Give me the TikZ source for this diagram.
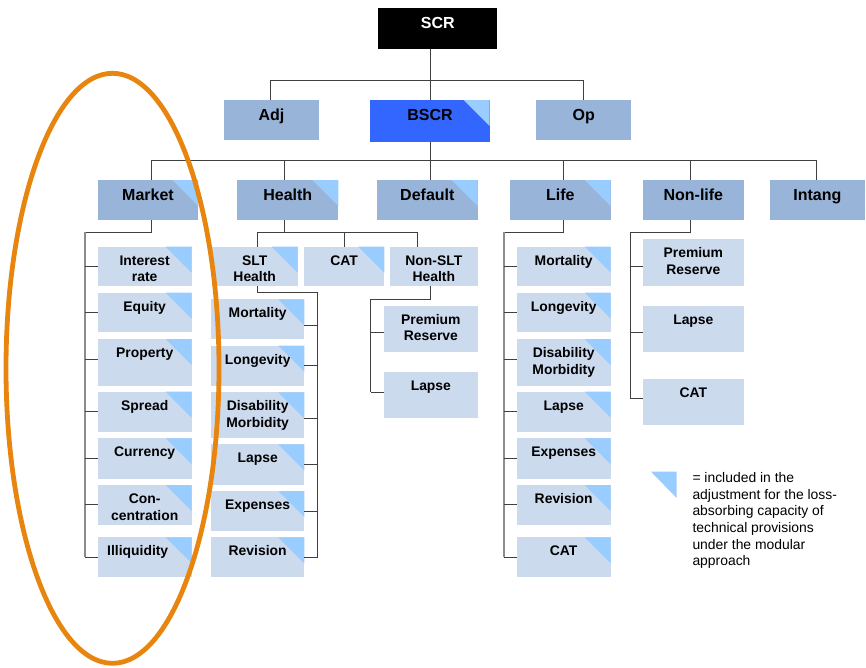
\documentclass[tikz,border=0pt]{standalone}
\usepackage{fontspec}
\setmainfont{Liberation Sans}
\definecolor{topblue}{HTML}{3366FF}
\definecolor{midblue}{HTML}{99B4D9}
\definecolor{paleblue}{HTML}{CCDAEE}
\definecolor{markblue}{HTML}{99CCFF}
\definecolor{ringorange}{HTML}{E8850F}
\definecolor{linegray}{HTML}{404040}

% one module box: name, fill style, x1, y1, x2, y2, text style, text
\newcommand\riskbox[8]{%
  \node[#2, anchor=north west, minimum width={#5-#3}, minimum height={#6-#4}] (#1) at (#3,#4) {};
  \node[#7] (#1-t) at (#1.north) {#8};}
% light-blue corner mark of a box
\newcommand\lacmark[1]{\fill[markblue] (#1.north east) -- ++(-26,0) -- ++(26,26) -- cycle;}
% short branch from a box edge to its rail: node, drop from top, side, rail point
\newcommand\branch[4]{\draw[conn] ([yshift=-#2pt]#1.north #3) -- ([yshift=-#2pt]#1.north #3 -| #4);}

\begin{document}
\begin{tikzpicture}[x=1pt,y=-1pt,
  boxbase/.style={inner sep=0, outer sep=0, draw=none},
  blackbox/.style={boxbase, fill=black},
  bscrbox/.style={boxbase, fill=topblue},
  midbox/.style={boxbase, fill=midblue},
  palebox/.style={boxbase, fill=paleblue},
  bigtxt/.style={anchor=base, yshift=-20.7pt, font=\fontsize{16}{19}\selectfont\bfseries},
  smalltxt/.style={anchor=base, yshift=-18.3pt, align=center, font=\fontsize{13.9}{16.7}\selectfont\bfseries},
  twoline/.style={smalltxt, yshift=-16.7pt},
  conn/.style={draw=linegray, line width=1pt},
  rail/.style={draw=black!45, line width=1.6pt},
]
\useasboundingbox (0,0) rectangle (866,667);

% ---- top levels
\riskbox{SCR}{blackbox}{378.3}{8}{497.3}{48.7}{bigtxt, text=white}{SCR}
\riskbox{Adj}{midbox}{224}{100}{319}{140}{bigtxt}{Adj}
\riskbox{BSCR}{bscrbox}{370.3}{100}{489.7}{141.7}{bigtxt}{BSCR}
\lacmark{BSCR}
\riskbox{Op}{midbox}{536.3}{100}{631.3}{140}{bigtxt}{Op}

% ---- modules
\riskbox{Market}{midbox}{97.7}{180}{198.3}{220}{bigtxt}{Market}
\riskbox{Health}{midbox}{237.3}{180}{338.3}{220}{bigtxt}{Health}
\riskbox{Default}{midbox}{377}{180}{477.7}{220}{bigtxt}{Default}
\riskbox{Life}{midbox}{510}{180}{610.7}{220}{bigtxt}{Life}
\riskbox{NonLife}{midbox}{642.7}{180}{744}{220}{bigtxt}{Non-life}
\riskbox{Intang}{midbox}{769.7}{180}{865}{220}{bigtxt}{Intang}
\foreach \n in {Market,Health,Default,Life} {\lacmark{\n}}

% ---- market sub-modules
\riskbox{mInt}{palebox}{97.7}{246.7}{191.7}{286}{twoline}{Interest\\rate}
\riskbox{mEq}{palebox}{97.7}{292.7}{191.7}{332.3}{smalltxt}{Equity}
\riskbox{mProp}{palebox}{97.7}{339}{191.7}{385.7}{smalltxt}{Property}
\riskbox{mSpr}{palebox}{97.7}{391.7}{191.7}{431.7}{smalltxt}{Spread}
\riskbox{mCur}{palebox}{97.7}{438.3}{191.7}{478.7}{smalltxt}{Currency}
\riskbox{mConc}{palebox}{97.7}{485}{191.7}{525}{twoline}{Con-\\centration}
\riskbox{mIll}{palebox}{97.7}{537.3}{191.7}{577.3}{smalltxt, xshift=-7pt}{Illiquidity}
\foreach \n in {mInt,mEq,mProp,mSpr,mCur,mConc,mIll} {\lacmark{\n}}

% ---- health sub-modules
\riskbox{SLT}{palebox}{211.7}{246.7}{297.7}{286}{twoline}{SLT\\Health}
\riskbox{hCAT}{palebox}{304}{246.7}{384.3}{286}{smalltxt}{CAT}
\riskbox{NSLT}{palebox}{390}{246.7}{477.7}{286}{twoline}{Non-SLT\\Health}
\lacmark{SLT}\lacmark{hCAT}
\riskbox{sMort}{palebox}{211}{299.3}{304.3}{339}{smalltxt}{Mortality}
\riskbox{sLong}{palebox}{211}{345.7}{304.3}{385.7}{smalltxt}{Longevity}
\riskbox{sDis}{palebox}{211}{392.3}{304.3}{438.3}{twoline}{Disability\\Morbidity}
\riskbox{sLap}{palebox}{211}{444.3}{304.3}{485}{smalltxt}{Lapse}
\riskbox{sExp}{palebox}{211}{491}{304.3}{531}{smalltxt}{Expenses}
\riskbox{sRev}{palebox}{211}{537.3}{304.3}{577.3}{smalltxt}{Revision}
\foreach \n in {sMort,sLong,sDis,sLap,sExp,sRev} {\lacmark{\n}}
\riskbox{nPrem}{palebox}{384}{305.7}{477.7}{351.7}{twoline}{Premium\\Reserve}
\riskbox{nLap}{palebox}{384}{372.3}{477.7}{418.3}{smalltxt}{Lapse}

% ---- life sub-modules
\riskbox{lMort}{palebox}{516.7}{246.7}{610.7}{286}{smalltxt}{Mortality}
\riskbox{lLong}{palebox}{516.7}{292.7}{610.7}{332.3}{smalltxt}{Longevity}
\riskbox{lDis}{palebox}{516.7}{339}{610.7}{385.7}{twoline}{Disability\\Morbidity}
\riskbox{lLap}{palebox}{516.7}{391.7}{610.7}{431.7}{smalltxt}{Lapse}
\riskbox{lExp}{palebox}{516.7}{438.3}{610.7}{478.7}{smalltxt}{Expenses}
\riskbox{lRev}{palebox}{516.7}{485}{610.7}{525}{smalltxt}{Revision}
\riskbox{lCAT}{palebox}{516.7}{537.3}{610.7}{577.3}{smalltxt}{CAT}
\foreach \n in {lMort,lLong,lDis,lLap,lExp,lRev,lCAT} {\lacmark{\n}}

% ---- non-life sub-modules
\riskbox{nlPrem}{palebox}{642.7}{239.3}{744}{286}{twoline}{Premium\\Reserve}
\riskbox{nlLap}{palebox}{642.7}{305.7}{744}{351.7}{smalltxt}{Lapse}
\riskbox{nlCAT}{palebox}{642.7}{379}{744}{425}{smalltxt}{CAT}

% ---- rail end points
\coordinate (mTop) at (84.7,232);
\coordinate (mBot) at (84.7,557);
\coordinate (sBot) at (317.7,557);
\coordinate (nBot) at (370.7,392.3);
\coordinate (lTop) at (503.7,232.3);
\coordinate (lBot) at (503.7,557);
\coordinate (nlBot) at (630.3,398.7);

% ---- connectors, top levels
\draw[conn] (SCR.south -| BSCR.north) -- (BSCR.north);
\draw[conn] ([xshift=-1.2pt]Adj.north) -- ++(0,-20) -| (Op.north);
\draw[conn] (BSCR.south) -- (BSCR.south |- Default.north);
\draw[conn] ([xshift=3.7pt]Market.north) -- ++(0,-20) -| ([xshift=-0.6pt]Intang.north);
\draw[conn] ([xshift=-3.5pt]Health.north) -- ++(0,-20);
\draw[conn] ([xshift=3.4pt]Life.north) -- ++(0,-20);
\draw[conn] ([xshift=-3.1pt]NonLife.north) -- ++(0,-20);

% ---- market rail
\draw[conn] ([xshift=3.7pt]Market.south) -- ++(0,12) -- (mTop);
\draw[rail] (mTop) -- (mBot);
\branch{mInt}{19.6}{west}{mBot}
\branch{mEq}{19.6}{west}{mBot}
\branch{mProp}{20}{west}{mBot}
\branch{mSpr}{20}{west}{mBot}
\branch{mCur}{19.7}{west}{mBot}
\branch{mConc}{19.7}{west}{mBot}
\branch{mIll}{19.7}{west}{mBot}

% ---- health rails
\draw[conn] ([xshift=-3.5pt]Health.south) -- ++(0,12);
\draw[conn] ([xshift=2.6pt]SLT.north) -- ++(0,-14.7) -| ([xshift=-16.5pt]NSLT.north);
\draw[conn] (hCAT.north) -- ++(0,-14.7);
\draw[conn] ([xshift=2.6pt]SLT.south) -- ++(0,6.3) -| (sBot);
\branch{sMort}{25.7}{east}{sBot}
\branch{sLong}{19.3}{east}{sBot}
\branch{sDis}{26}{east}{sBot}
\branch{sLap}{20}{east}{sBot}
\branch{sExp}{20}{east}{sBot}
\branch{sRev}{19.7}{east}{sBot}
\draw[conn] ([xshift=-3.1pt]NSLT.south) -- ++(0,13) -| (nBot);
\branch{nPrem}{26.6}{west}{nBot}
\branch{nLap}{20}{west}{nBot}

% ---- life rail
\draw[conn] ([xshift=3.4pt]Life.south) -- ++(0,12.3) -- (lTop);
\draw[rail] (lTop) -- (lBot);
\branch{lMort}{19.6}{west}{lBot}
\branch{lLong}{19.6}{west}{lBot}
\branch{lDis}{20}{west}{lBot}
\branch{lLap}{20}{west}{lBot}
\branch{lExp}{19.7}{west}{lBot}
\branch{lRev}{19.7}{west}{lBot}
\branch{lCAT}{19.7}{west}{lBot}

% ---- non-life rail
\draw[conn] ([xshift=-3.1pt]NonLife.south) -- ++(0,12.3) -| (nlBot);
\branch{nlPrem}{27}{west}{nlBot}
\branch{nlLap}{26.6}{west}{nlBot}
\branch{nlCAT}{19.7}{west}{nlBot}

% ---- key (base anchor sits on the last line)
\fill[markblue] (651,471.7) -- (676.7,471.7) -- (676.7,498) -- cycle;
\node[anchor=base west, inner sep=0, align=left, font=\fontsize{13.9}{16.7}\selectfont] (key) at (692.3,565.8)
  {= included in the\\adjustment for the loss-\\absorbing capacity of\\technical provisions\\under the modular\\approach};

% ---- ring around the market module
\draw[ringorange, line width=4.8pt] (112.5,368.3) ellipse [x radius=106.5pt, y radius=295pt];
\end{tikzpicture}
\end{document}
